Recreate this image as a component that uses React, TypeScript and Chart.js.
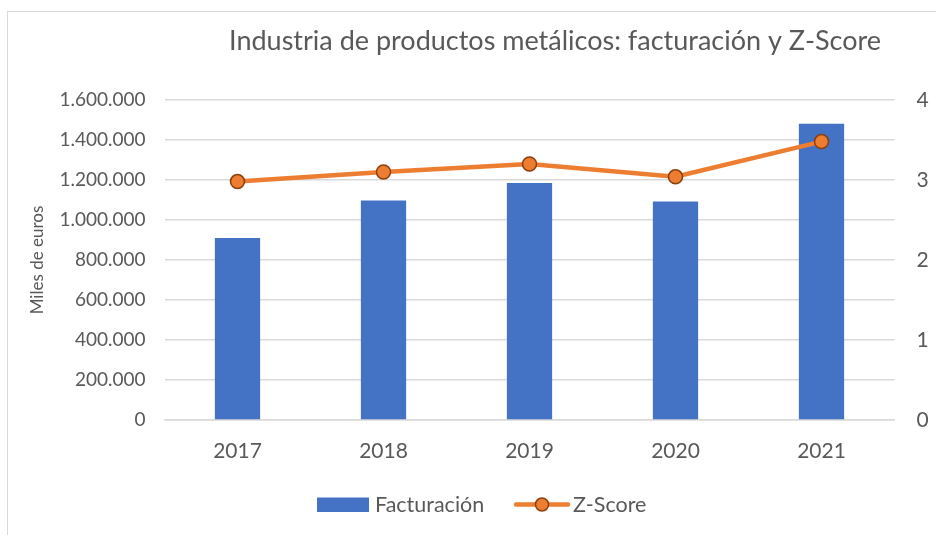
import React, { useEffect, useRef } from "react";
import { Chart, registerables } from "chart.js";

Chart.register(...registerables);

const categories = ["2017", "2018", "2019", "2020", "2021"];
const facturacion = [910000, 1098000, 1185000, 1093000, 1481000];
const zScore = [2.98, 3.1, 3.2, 3.04, 3.48];
const leftAxis = { min: 0, max: 1600000, step: 200000 };
const rightAxis = { min: 0, max: 4, step: 1 };
const chartTitle = "Industria de productos metálicos: facturación y Z-Score";
const yAxisTitle = "Miles de euros";
const seriesNames = ["Facturación", "Z-Score"];

const FONT = "Lato";
const TEXT = "#595959";
const BLUE = "#4472C4";
const ORANGE = "#ED7D31";
const ORANGE_DARK = "#8A3F0E";
const GRID = "#D9D9D9";

const fmt = (v: number) => String(v).replace(/\B(?=(\d{3})+(?!\d))/g, ".");

const overlayPlugin = {
  id: "excelOverlay",
  afterDraw(chart: any) {
    const ctx = chart.ctx as CanvasRenderingContext2D;
    ctx.save();
    // title
    ctx.font = `27px ${FONT}`;
    ctx.fillStyle = TEXT;
    ctx.textAlign = "center";
    ctx.textBaseline = "alphabetic";
    ctx.fillText(chartTitle, 555, 50);

    // legend
    const baseY = 512;
    ctx.font = `21.5px ${FONT}`;
    ctx.textAlign = "left";
    ctx.fillStyle = BLUE;
    ctx.fillRect(317, 497.5, 52, 14.5);
    ctx.fillStyle = TEXT;
    ctx.fillText(seriesNames[0], 375, baseY);

    ctx.strokeStyle = ORANGE;
    ctx.lineWidth = 4.5;
    ctx.lineCap = "round";
    ctx.beginPath();
    ctx.moveTo(516, 504.5);
    ctx.lineTo(568, 504.5);
    ctx.stroke();
    ctx.beginPath();
    ctx.arc(542, 504.5, 6.5, 0, Math.PI * 2);
    ctx.fillStyle = ORANGE;
    ctx.fill();
    ctx.lineWidth = 1.5;
    ctx.strokeStyle = ORANGE_DARK;
    ctx.stroke();
    ctx.fillStyle = TEXT;
    ctx.fillText(seriesNames[1], 573, baseY);
    ctx.restore();
  },
};

export default function App() {
  const canvasRef = useRef<HTMLCanvasElement | null>(null);

  useEffect(() => {
    if (!canvasRef.current) return;
    const chart = new Chart(canvasRef.current, {
      type: "bar",
      data: {
        labels: categories,
        datasets: [
          {
            type: "line",
            label: seriesNames[1],
            data: zScore,
            yAxisID: "y1",
            borderColor: ORANGE,
            backgroundColor: ORANGE,
            borderWidth: 4.5,
            tension: 0,
            pointRadius: 7,
            pointHoverRadius: 7,
            pointBackgroundColor: ORANGE,
            pointBorderColor: ORANGE_DARK,
            pointBorderWidth: 1.5,
            order: 0,
          } as any,
          {
            type: "bar",
            label: seriesNames[0],
            data: facturacion,
            yAxisID: "y",
            backgroundColor: BLUE,
            borderWidth: 0,
            barPercentage: 0.31,
            categoryPercentage: 1,
            order: 1,
          },
        ],
      },
      options: {
        animation: false,
        responsive: true,
        maintainAspectRatio: false,
        layout: { padding: { top: 100, bottom: 55, left: 0, right: 0 } },
        plugins: {
          legend: { display: false },
          title: { display: false },
          tooltip: { enabled: false },
        },
        scales: {
          x: {
            grid: { display: false, drawTicks: false },
            border: { display: true, color: GRID, width: 1.5 },
            ticks: {
              color: TEXT,
              font: { family: FONT, size: 21 },
              padding: 19,
            },
            afterFit: (s: any) => {
              s.height = 60;
            },
          },
          y: {
            position: "left",
            min: leftAxis.min,
            max: leftAxis.max,
            grid: { color: GRID, lineWidth: 1.5, drawTicks: false },
            border: { display: false },
            ticks: {
              stepSize: leftAxis.step,
              color: TEXT,
              font: { family: FONT, size: 19 },
              padding: 19,
              callback: (v: any) => fmt(Number(v)),
            },
            title: {
              display: true,
              text: yAxisTitle,
              color: TEXT,
              font: { family: FONT, size: 17 },
              padding: { top: 27, bottom: 0 },
            },
            afterFit: (s: any) => {
              s.width = 164.5;
            },
          },
          y1: {
            position: "right",
            min: rightAxis.min,
            max: rightAxis.max,
            grid: { display: false, drawTicks: false },
            border: { display: false },
            ticks: {
              stepSize: rightAxis.step,
              color: TEXT,
              font: { family: FONT, size: 21 },
              padding: 22,
            },
            afterFit: (s: any) => {
              s.width = 41.5;
            },
          },
        },
      },
      plugins: [overlayPlugin],
    });
    return () => chart.destroy();
  }, []);

  return (
    <div
      style={{
        position: "absolute",
        left: 0,
        top: 0,
        width: 936,
        height: 535,
        overflow: "hidden",
        background: "#fff",
      }}
    >
      <div
        style={{
          position: "absolute",
          left: 6.5,
          top: 10.5,
          width: 1100,
          height: 700,
          border: "1.5px solid #D9D9D9",
          boxSizing: "border-box",
        }}
      />
      <div style={{ position: "absolute", left: 0, top: 0, width: 936, height: 535 }}>
        <canvas ref={canvasRef} />
      </div>
    </div>
  );
}
